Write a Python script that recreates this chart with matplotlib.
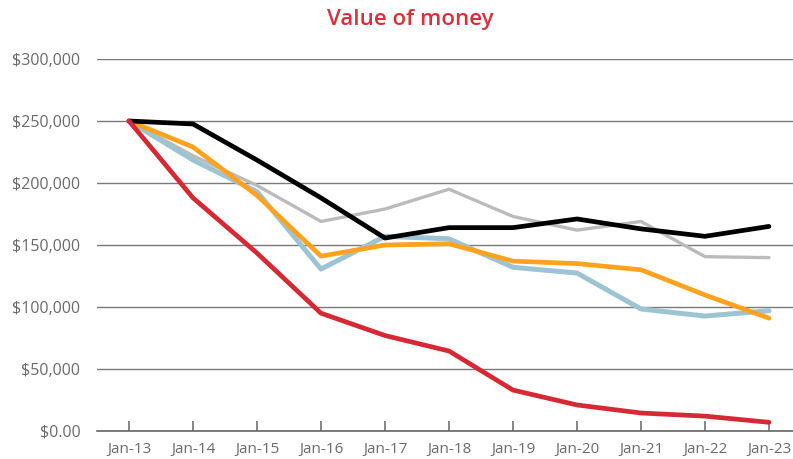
import matplotlib.pyplot as plt

# data
years = ['Jan-13', 'Jan-14', 'Jan-15', 'Jan-16', 'Jan-17', 'Jan-18',
         'Jan-19', 'Jan-20', 'Jan-21', 'Jan-22', 'Jan-23']
gray_vals = [250000, 222000, 198000, 169000, 179000, 195000, 173000, 162000, 169000, 140600, 139800]
blue_vals = [250000, 218500, 193000, 130600, 157000, 155000, 132000, 127400, 98400, 92700, 97000]
orange_vals = [250000, 229000, 190000, 141000, 150000, 151000, 137000, 135000, 130000, 109700, 91000]
black_vals = [250000, 247600, 218500, 188000, 155600, 164000, 164000, 171000, 163000, 157000, 165000]
red_vals = [250000, 188000, 143500, 95000, 77000, 64500, 33000, 21000, 14500, 12000, 7000]
ytick_vals = [0, 50000, 100000, 150000, 200000, 250000, 300000]
ytick_labels = ['$0.00', '$50,000', '$100,000', '$150,000', '$200,000', '$250,000', '$300,000']

plt.rcParams['font.family'] = ['Open Sans', 'DejaVu Sans']

fig = plt.figure(figsize=(7.93, 4.59), dpi=100)
ax = fig.add_axes([97 / 793, 28 / 459, 704 / 793, 372 / 459])

x = range(len(years))
ax.plot(x, gray_vals, color='#BBBBBB', lw=2.4, solid_capstyle='round', zorder=3)
ax.plot(x, blue_vals, color='#9DC4D3', lw=3.6, solid_capstyle='round', zorder=4)
ax.plot(x, orange_vals, color='#FFA31F', lw=3.4, solid_capstyle='round', zorder=5)
ax.plot(x, black_vals, color='#000000', lw=3.4, solid_capstyle='round', zorder=6)
ax.plot(x, red_vals, color='#D52A33', lw=3.4, solid_capstyle='round', zorder=7)

ax.set_xlim(-0.5, len(years) - 0.5)
ax.set_ylim(0, 300000)
ax.set_xticks(list(x))
ax.set_xticklabels(years)
ax.set_yticks(ytick_vals)
ax.set_yticklabels(ytick_labels)

ax.grid(axis='y', color='#7a7a7a', lw=1.0, zorder=0)
ax.set_axisbelow(True)
for s in ['top', 'right', 'left']:
    ax.spines[s].set_visible(False)
ax.spines['bottom'].set_color('#666666')
ax.spines['bottom'].set_linewidth(1.2)

ax.tick_params(axis='x', direction='in', length=7, width=1.1, color='#666666',
               labelsize=11, labelcolor='#6b6b6b', pad=8)
ax.tick_params(axis='y', length=0, labelsize=11.5, labelcolor='#6b6b6b', pad=12)

# title sits a little right of the figure centre in the reference
fig.text(410 / 793, 1 - 20 / 459, 'Value of money', ha='center', va='center',
         color='#D9313B', fontsize=16, fontweight='semibold')

fig.savefig('out.png', dpi=100)
